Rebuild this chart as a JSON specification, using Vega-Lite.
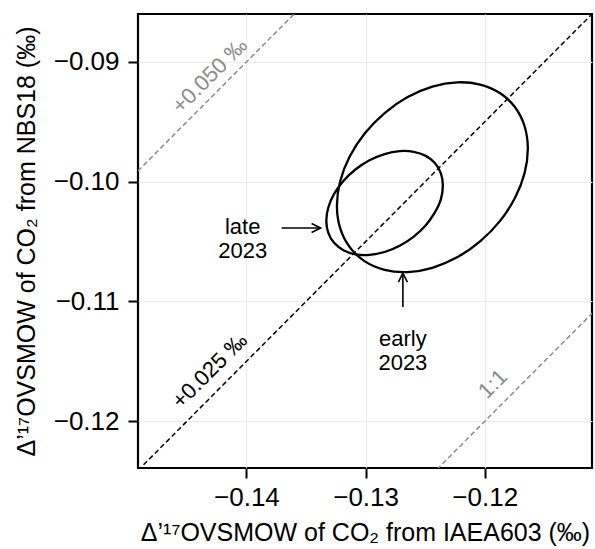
{
  "$schema": "https://vega.github.io/schema/vega-lite/v6.json",
  "width": 454,
  "height": 454,
  "autosize": {"type": "none"},
  "padding": {"left": 138, "top": 14, "right": 3, "bottom": 81},
  "background": "white",
  "config": {
    "font": "Liberation Sans",
    "view": {"stroke": "black", "strokeWidth": 2.2},
    "axis": {
      "domain": false,
      "grid": true,
      "gridColor": "#ebebeb",
      "gridWidth": 1.2,
      "ticks": true,
      "tickColor": "black",
      "tickWidth": 2,
      "tickSize": 10,
      "labelColor": "black",
      "labelFont": "Liberation Sans",
      "labelFontSize": 26,
      "titleColor": "black",
      "titleFont": "Liberation Sans",
      "titleFontSize": 25,
      "titleFontWeight": "normal"
    }
  },
  "encoding": {
    "x": {
      "field": "x",
      "type": "quantitative",
      "scale": {"domain": [-0.1491, -0.111], "nice": false, "zero": false},
      "axis": {"values": [-0.14, -0.13, -0.12], "format": ".2f", "labelPadding": 6, "title": "Δ’¹⁷OVSMOW of CO₂ from IAEA603 (‰)", "titlePadding": 10}
    },
    "y": {
      "field": "y",
      "type": "quantitative",
      "scale": {"domain": [-0.1239, -0.086], "nice": false, "zero": false},
      "axis": {"values": [-0.12, -0.11, -0.1, -0.09], "format": ".2f", "labelPadding": 9, "title": "Δ’¹⁷OVSMOW of CO₂ from NBS18 (‰)", "titlePadding": 14}
    }
  },
  "layer": [
    {
      "data": {"values": [
        {"k": "+0.050", "x": -0.16, "y": -0.11},
        {"k": "+0.050", "x": -0.10, "y": -0.05},
        {"k": "1:1", "x": -0.16, "y": -0.16},
        {"k": "1:1", "x": -0.10, "y": -0.10}
      ]},
      "mark": {"type": "line", "clip": true, "color": "#8c8c8c", "strokeWidth": 1.5, "strokeDash": [5, 3]},
      "encoding": {"detail": {"field": "k"}}
    },
    {
      "data": {"values": [
        {"k": "+0.025", "x": -0.16, "y": -0.135},
        {"k": "+0.025", "x": -0.10, "y": -0.075}
      ]},
      "mark": {"type": "line", "clip": true, "color": "black", "strokeWidth": 1.5, "strokeDash": [5, 3]},
      "encoding": {"detail": {"field": "k"}}
    },
    {
      "data": {"values": [
        {"e": "early", "i": 0, "x": -0.116385, "y": -0.097246},
        {"e": "early", "i": 1, "x": -0.116658, "y": -0.095370},
        {"e": "early", "i": 2, "x": -0.117458, "y": -0.093785},
        {"e": "early", "i": 3, "x": -0.118731, "y": -0.092596},
        {"e": "early", "i": 4, "x": -0.120390, "y": -0.091887},
        {"e": "early", "i": 5, "x": -0.122323, "y": -0.091706},
        {"e": "early", "i": 6, "x": -0.124396, "y": -0.092063},
        {"e": "early", "i": 7, "x": -0.126469, "y": -0.092936},
        {"e": "early", "i": 8, "x": -0.128402, "y": -0.094265},
        {"e": "early", "i": 9, "x": -0.130061, "y": -0.095959},
        {"e": "early", "i": 10, "x": -0.131334, "y": -0.097903},
        {"e": "early", "i": 11, "x": -0.132134, "y": -0.099964},
        {"e": "early", "i": 12, "x": -0.132407, "y": -0.102002},
        {"e": "early", "i": 13, "x": -0.132134, "y": -0.103878},
        {"e": "early", "i": 14, "x": -0.131334, "y": -0.105463},
        {"e": "early", "i": 15, "x": -0.130061, "y": -0.106652},
        {"e": "early", "i": 16, "x": -0.128402, "y": -0.107361},
        {"e": "early", "i": 17, "x": -0.126469, "y": -0.107542},
        {"e": "early", "i": 18, "x": -0.124396, "y": -0.107185},
        {"e": "early", "i": 19, "x": -0.122323, "y": -0.106312},
        {"e": "early", "i": 20, "x": -0.120390, "y": -0.104983},
        {"e": "early", "i": 21, "x": -0.118731, "y": -0.103289},
        {"e": "early", "i": 22, "x": -0.117458, "y": -0.101345},
        {"e": "early", "i": 23, "x": -0.116658, "y": -0.099284},
        {"e": "late", "i": 0, "x": -0.123515, "y": -0.100303},
        {"e": "late", "i": 1, "x": -0.123682, "y": -0.099295},
        {"e": "late", "i": 2, "x": -0.124170, "y": -0.098456},
        {"e": "late", "i": 3, "x": -0.124948, "y": -0.097844},
        {"e": "late", "i": 4, "x": -0.125960, "y": -0.097501},
        {"e": "late", "i": 5, "x": -0.127140, "y": -0.097448},
        {"e": "late", "i": 6, "x": -0.128406, "y": -0.097692},
        {"e": "late", "i": 7, "x": -0.129672, "y": -0.098214},
        {"e": "late", "i": 8, "x": -0.130852, "y": -0.098979},
        {"e": "late", "i": 9, "x": -0.131864, "y": -0.099935},
        {"e": "late", "i": 10, "x": -0.132642, "y": -0.101016},
        {"e": "late", "i": 11, "x": -0.133130, "y": -0.102151},
        {"e": "late", "i": 12, "x": -0.133297, "y": -0.103259},
        {"e": "late", "i": 13, "x": -0.133130, "y": -0.104267},
        {"e": "late", "i": 14, "x": -0.132642, "y": -0.105106},
        {"e": "late", "i": 15, "x": -0.131864, "y": -0.105718},
        {"e": "late", "i": 16, "x": -0.130852, "y": -0.106061},
        {"e": "late", "i": 17, "x": -0.129672, "y": -0.106114},
        {"e": "late", "i": 18, "x": -0.128406, "y": -0.105870},
        {"e": "late", "i": 19, "x": -0.127140, "y": -0.105348},
        {"e": "late", "i": 20, "x": -0.125960, "y": -0.104583},
        {"e": "late", "i": 21, "x": -0.124948, "y": -0.103627},
        {"e": "late", "i": 22, "x": -0.124170, "y": -0.102546},
        {"e": "late", "i": 23, "x": -0.123682, "y": -0.101476}
      ]},
      "mark": {"type": "line", "color": "black", "strokeWidth": 2.3, "interpolate": "cardinal-closed"},
      "encoding": {"detail": {"field": "e"}, "order": {"field": "i", "type": "quantitative"}}
    },
    {
      "data": {"values": [
        {"a": "late", "x": -0.137047, "y": -0.103871, "x2": -0.133775, "y2": -0.103871},
        {"a": "early", "x": -0.126871, "y": -0.110451, "x2": -0.126871, "y2": -0.107634}
      ]},
      "mark": {"type": "rule", "color": "black", "strokeWidth": 1.6},
      "encoding": {"x2": {"field": "x2"}, "y2": {"field": "y2"}}
    },
    {
      "data": {"values": [
        {"a": "late", "x": -0.133775, "y": -0.103871, "dir": 90},
        {"a": "early", "x": -0.126871, "y": -0.107634, "dir": 0}
      ]},
      "mark": {"type": "point", "shape": "M -0.5 1 L 0 0 L 0.5 1", "filled": false, "color": "black", "strokeWidth": 1.6, "size": 324, "opacity": 1},
      "encoding": {"angle": {"field": "dir", "type": "quantitative", "scale": null}}
    },
    {
      "data": {"values": [
        {"t": "late\n2023", "x": -0.140318, "y": -0.103788},
        {"t": "early\n2023", "x": -0.126871, "y": -0.113152}
      ]},
      "mark": {"type": "text", "font": "Liberation Sans", "fontSize": 22, "color": "black", "align": "center", "baseline": "middle", "lineBreak": "\n", "lineHeight": 24},
      "encoding": {"text": {"field": "t"}}
    },
    {
      "data": {"values": [
        {"t": "+0.025 ‰", "x": -0.143087, "y": -0.115769}
      ]},
      "mark": {"type": "text", "font": "Liberation Sans", "fontSize": 22, "color": "black", "align": "center", "baseline": "middle", "angle": -45},
      "encoding": {"text": {"field": "t"}}
    },
    {
      "data": {"values": [
        {"t": "+0.050 ‰", "x": -0.143087, "y": -0.091145},
        {"t": "1:1", "x": -0.119321, "y": -0.116881}
      ]},
      "mark": {"type": "text", "font": "Liberation Sans", "fontSize": 22, "color": "#8c8c8c", "align": "center", "baseline": "middle", "angle": -45},
      "encoding": {"text": {"field": "t"}}
    }
  ]
}
